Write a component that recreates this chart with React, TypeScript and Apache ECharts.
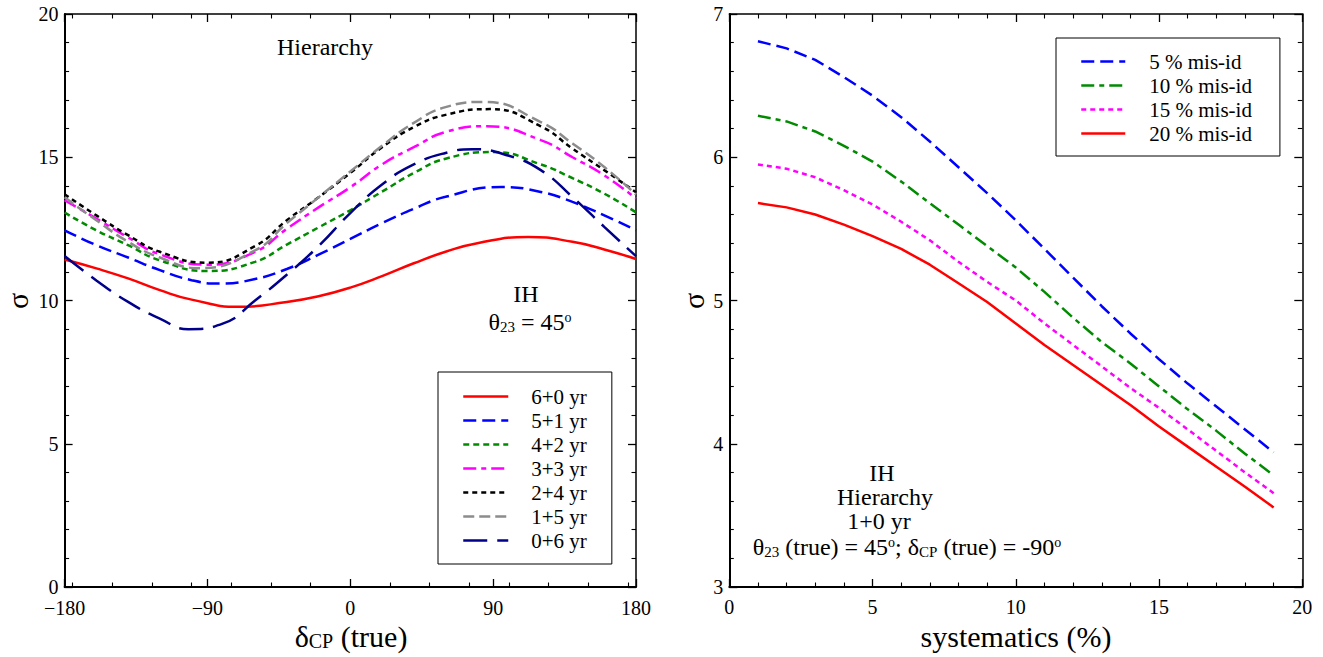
import React, { useEffect, useRef } from "react";
import * as echarts from "echarts";

// ---------- Left panel data: sigma vs delta_CP (true), one x/y pair of arrays per curve ----------
const dcp6p0 = [-180, -160, -140, -120, -100, -70, -40, -20, 0, 20, 40, 60, 80, 112, 140, 160, 180];
const sig6p0 = [11.43, 11.12, 10.77, 10.36, 10.03, 9.78, 9.95, 10.15, 10.45, 10.85, 11.3, 11.7, 12.0, 12.22, 12.05, 11.78, 11.45];

const dcp5p1 = [-180, -160, -140, -120, -100, -82, -60, -40, -20, 0, 20, 40, 60, 95, 120, 140, 160, 180];
const sig5p1 = [12.45, 11.93, 11.5, 11.06, 10.71, 10.59, 10.75, 11.1, 11.6, 12.15, 12.7, 13.2, 13.62, 13.96, 13.79, 13.44, 12.97, 12.45];

const dcp4p2 = [-180, -160, -140, -120, -90, -60, -40, -20, 0, 20, 40, 60, 90, 120, 140, 160, 180];
const sig4p2 = [13.07, 12.45, 11.93, 11.4, 11.03, 11.35, 11.95, 12.55, 13.15, 13.8, 14.45, 14.95, 15.18, 14.75, 14.27, 13.73, 13.08];

const dcp3p3 = [-180, -160, -140, -120, -90, -60, -40, -20, 0, 20, 40, 60, 86, 120, 140, 160, 180];
const sig3p3 = [13.5, 12.86, 12.2, 11.61, 11.25, 11.7, 12.5, 13.25, 13.95, 14.75, 15.35, 15.88, 16.08, 15.6, 15.0, 14.37, 13.56];

const dcp2p4 = [-180, -160, -140, -120, -90, -60, -40, -20, 0, 20, 40, 60, 88, 120, 140, 160, 180];
const sig2p4 = [13.71, 12.97, 12.28, 11.7, 11.32, 11.9, 12.8, 13.6, 14.45, 15.35, 16.05, 16.48, 16.68, 16.08, 15.3, 14.55, 13.78];

const dcp1p5 = [-180, -160, -140, -120, -95, -60, -40, -20, 0, 20, 40, 60, 84, 120, 140, 160, 180];
const sig1p5 = [13.6, 12.8, 12.05, 11.5, 11.13, 11.75, 12.7, 13.6, 14.5, 15.4, 16.2, 16.75, 16.93, 16.23, 15.48, 14.66, 13.7];

const dcp0p6 = [-180, -160, -140, -120, -102, -80, -60, -40, -20, 0, 20, 40, 60, 77, 100, 120, 140, 160, 180];
const sig0p6 = [11.55, 10.7, 9.95, 9.37, 9.0, 9.2, 10.0, 10.9, 11.9, 13.05, 14.05, 14.75, 15.15, 15.28, 15.05, 14.55, 13.61, 12.57, 11.55];

const leftNames = ["6+0 yr", "5+1 yr", "4+2 yr", "3+3 yr", "2+4 yr", "1+5 yr", "0+6 yr"];

// ---------- Right panel data: sigma vs systematics (%) ----------
const systematics = [1, 2, 3, 4, 5, 6, 7, 8, 9, 10, 11, 12, 13, 14, 15, 16, 17, 18, 19];
const misid5 = [6.81, 6.76, 6.68, 6.56, 6.43, 6.28, 6.11, 5.93, 5.75, 5.56, 5.36, 5.16, 4.96, 4.77, 4.59, 4.42, 4.26, 4.1, 3.94];
const misid10 = [6.29, 6.25, 6.18, 6.08, 5.97, 5.83, 5.68, 5.53, 5.38, 5.23, 5.06, 4.88, 4.71, 4.56, 4.4, 4.24, 4.09, 3.93, 3.78];
const misid15 = [5.95, 5.92, 5.86, 5.77, 5.67, 5.55, 5.42, 5.27, 5.13, 5.0, 4.84, 4.69, 4.54, 4.39, 4.25, 4.1, 3.95, 3.8, 3.655];
const misid20 = [5.68, 5.65, 5.6, 5.53, 5.45, 5.36, 5.25, 5.12, 4.99, 4.84, 4.69, 4.55, 4.41, 4.27, 4.12, 3.98, 3.84, 3.7, 3.555];
const rightNames = ["5 % mis-id", "10 % mis-id", "15 % mis-id", "20 % mis-id"];

// minor tick positions of the delta_CP axis
const deltaMinorTicks = [-175, -150, -125, -100, -75, -50, -25, 25, 50, 75, 100, 125, 150, 175];

const FONT = '"Liberation Serif", "Times New Roman", Times, serif';

const zip = (xs: number[], ys: number[]) => xs.map((x, i) => [x, ys[i]]);

export default function App() {
  const ref = useRef<HTMLDivElement>(null);

  useEffect(() => {
    const chart = echarts.init(ref.current!, null, { renderer: "svg" });

    const black = "#000";
    const axLine = (w: number) => ({ show: true, onZero: false, lineStyle: { color: black, width: w } });
    const majorTick = { show: true, inside: true, length: 8, lineStyle: { color: black, width: 1.3 } };
    const minorTick = (n: number) => ({ show: true, splitNumber: n, length: 4.5, lineStyle: { color: black, width: 1.1 } });
    const label = { show: true, fontFamily: FONT, fontSize: 20, lineHeight: 16, color: black };
    const noLabel = { show: false };
    const noSplit = { show: false };
    const minus = (v: number) => (v < 0 ? "\u2212" + Math.abs(v) : String(v));

    const xAxis: any[] = [
      { gridIndex: 0, type: "value", position: "bottom", min: -180, max: 180, interval: 90,
        axisLine: axLine(2), axisTick: majorTick, axisLabel: { ...label, margin: 13, formatter: minus }, splitLine: noSplit },
      { gridIndex: 0, type: "value", position: "bottom", min: -180, max: 180,
        axisLine: { show: false, onZero: false },
        axisTick: { show: true, inside: true, length: 4.5, customValues: deltaMinorTicks, lineStyle: { color: black, width: 1.1 } },
        axisLabel: noLabel, splitLine: noSplit },
      { gridIndex: 0, type: "value", position: "top", min: -180, max: 180, interval: 90,
        axisLine: axLine(1.5), axisTick: majorTick, axisLabel: noLabel, splitLine: noSplit },
      { gridIndex: 0, type: "value", position: "top", min: -180, max: 180,
        axisLine: { show: false, onZero: false },
        axisTick: { show: true, inside: true, length: 4.5, customValues: deltaMinorTicks, lineStyle: { color: black, width: 1.1 } },
        axisLabel: noLabel, splitLine: noSplit },
      { gridIndex: 1, type: "value", position: "bottom", min: 0, max: 20, interval: 5,
        axisLine: axLine(2), axisTick: majorTick, minorTick: minorTick(5), axisLabel: { ...label, margin: 12 }, splitLine: noSplit },
      { gridIndex: 1, type: "value", position: "top", min: 0, max: 20, interval: 5,
        axisLine: axLine(1.5), axisTick: majorTick, minorTick: minorTick(5), axisLabel: noLabel, splitLine: noSplit },
    ];

    const yAxis: any[] = [
      { gridIndex: 0, type: "value", position: "left", min: 0, max: 20, interval: 5,
        axisLine: axLine(2), axisTick: majorTick, minorTick: minorTick(5), axisLabel: { ...label, margin: 6 }, splitLine: noSplit },
      { gridIndex: 0, type: "value", position: "right", min: 0, max: 20, interval: 5,
        axisLine: axLine(1.5), axisTick: majorTick, minorTick: minorTick(5), axisLabel: noLabel, splitLine: noSplit },
      { gridIndex: 1, type: "value", position: "left", min: 3, max: 7, interval: 1,
        axisLine: axLine(2), axisTick: majorTick, minorTick: minorTick(5), axisLabel: { ...label, margin: 6 }, splitLine: noSplit },
      { gridIndex: 1, type: "value", position: "right", min: 3, max: 7, interval: 1,
        axisLine: axLine(1.5), axisTick: majorTick, minorTick: minorTick(5), axisLabel: noLabel, splitLine: noSplit },
    ];

    const mk = (name: string, data: number[][], color: string, type: any, xi: number, yi: number, smooth: any) => ({
      type: "line",
      name,
      data,
      xAxisIndex: xi,
      yAxisIndex: yi,
      smooth,
      symbol: "none",
      showSymbol: false,
      silent: true,
      clip: true,
      color,
      lineStyle: { color, width: 2.5, type, cap: "butt" },
      emphasis: { disabled: true },
    });

    const leftColors = ["#ff0000", "#0000ff", "#008b00", "#ff00ff", "#000000", "#8c8c8c", "#00008b"];
    const leftDash: any[] = ["solid", [13, 6], [6, 4], [13, 5, 5, 5], [5, 4], [11, 5], [24, 10]];
    const leftX = [dcp6p0, dcp5p1, dcp4p2, dcp3p3, dcp2p4, dcp1p5, dcp0p6];
    const leftY = [sig6p0, sig5p1, sig4p2, sig3p3, sig2p4, sig1p5, sig0p6];

    const rightColors = ["#0000ff", "#008b00", "#ff00ff", "#ff0000"];
    const rightDash: any[] = [[13, 6], [13, 5, 5, 5], [5, 4], "solid"];
    const rightY = [misid5, misid10, misid15, misid20];

    const series: any[] = [
      ...leftNames.map((n, i) => mk(n, zip(leftX[i], leftY[i]), leftColors[i], leftDash[i], 0, 0, 0.5)),
      ...rightNames.map((n, i) => mk(n, zip(systematics, rightY[i]), rightColors[i], rightDash[i], 4, 2, false)),
    ];

    const legendText = (pad: number) => ({ fontFamily: FONT, fontSize: 21, lineHeight: 21, color: black, padding: [0, 0, 0, pad] });

    const txt = (x: number, y: number, text: string, size = 24, extra: any = {}) => ({
      type: "text",
      x,
      y,
      silent: true,
      ...extra,
      style: { text, fontFamily: FONT, fontSize: size, fill: black, align: "center", verticalAlign: "middle" },
    });

    const rich24 = {
      a: { fontFamily: FONT, fontSize: 24, lineHeight: 24, fill: black, color: black },
      s: { fontFamily: FONT, fontSize: 15, lineHeight: 13, fill: black, color: black, verticalAlign: "bottom" },
      u: { fontFamily: FONT, fontSize: 14, lineHeight: 14, fill: black, color: black, verticalAlign: "top" },
    };
    const rich30 = {
      a: { fontFamily: FONT, fontSize: 30, lineHeight: 30, fill: black, color: black },
      s: { fontFamily: FONT, fontSize: 20, lineHeight: 19, fill: black, color: black, verticalAlign: "bottom" },
    };

    const graphic: any[] = [
      txt(325, 47, "Hierarchy"),
      txt(526, 294, "IH"),
      { type: "text", x: 530, y: 322, silent: true,
        style: { text: "{a|θ}{s|23}{a| = 45}{u|o}", rich: rich24, align: "center", verticalAlign: "middle" } },
      { type: "text", x: 351, y: 636, silent: true,
        style: { text: "{a|δ}{s|CP}{a| (true)}", rich: rich30, align: "center", verticalAlign: "middle" } },
      { type: "text", x: 1016, y: 636, silent: true,
        style: { text: "systematics (%)", fontFamily: FONT, fontSize: 30, fill: black, align: "center", verticalAlign: "middle" } },
      txt(17, 301, "σ", 30, { rotation: Math.PI / 2 }),
      txt(693, 301, "σ", 30, { rotation: Math.PI / 2 }),
      txt(882, 473, "IH"),
      txt(885, 497, "Hierarchy"),
      txt(879, 521, "1+0 yr"),
      { type: "text", x: 907, y: 547, silent: true,
        style: { text: "{a|θ}{s|23}{a| (true) = 45}{u|o}{a|; δ}{s|CP}{a| (true) = -90}{u|o}", rich: rich24, align: "center", verticalAlign: "middle" } },
    ];

    const option: any = {
      animation: false,
      backgroundColor: "#fff",
      textStyle: { fontFamily: FONT },
      grid: [
        { left: 64.6, top: 14, width: 571.4, height: 573, containLabel: false },
        { left: 729.3, top: 14, width: 573, height: 573, containLabel: false },
      ],
      xAxis,
      yAxis,
      legend: [
        { data: leftNames, orient: "vertical", left: 438, top: 372, padding: [14, 25, 13, 24],
          itemWidth: 45, itemHeight: 14, itemGap: 3, borderColor: black, borderWidth: 1, borderRadius: 0,
          backgroundColor: "#fff", selectedMode: false, textStyle: legendText(18),
          itemStyle: { opacity: 0 }, lineStyle: { width: 2.5 } },
        { data: rightNames, orient: "vertical", left: 1056, top: 38, padding: [13, 28, 12, 24],
          itemWidth: 44, itemHeight: 14, itemGap: 3, borderColor: black, borderWidth: 1, borderRadius: 0,
          backgroundColor: "#fff", selectedMode: false, textStyle: legendText(19),
          itemStyle: { opacity: 0 }, lineStyle: { width: 2.5 } },
      ],
      series,
      graphic,
    };

    chart.setOption(option);
    return () => chart.dispose();
  }, []);

  return <div ref={ref} style={{ position: "fixed", left: 0, top: 0, width: 1323, height: 657 }} />;
}
